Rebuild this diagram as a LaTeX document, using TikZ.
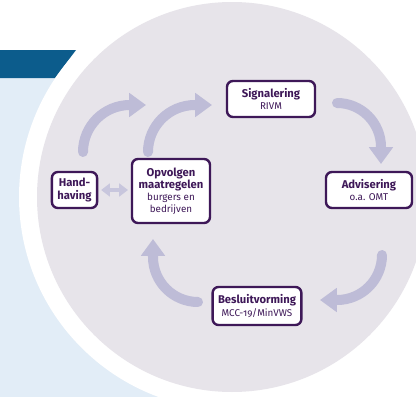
\documentclass[tikz,border=0pt]{standalone}
\usepackage{fontspec}
\setmainfont{Fira Sans}[Numbers=OldStyle]
\definecolor{main}{RGB}{62,24,88}
\definecolor{band}{RGB}{12,92,140}
\definecolor{sky}{RGB}{226,237,247}
\definecolor{disc}{RGB}{231,228,234}
\definecolor{flow}{RGB}{190,188,215}
\usetikzlibrary{
	arrows.meta,
	positioning
}
\tikzset{
  % node
	cycbox/.style     ={fill=white,draw=main,text=main,rounded corners=0.15cm,line width=1.7pt,inner sep=0pt,align=center,font=\fontsize{7}{8.6}\selectfont},
  % arrow
	cycarrow/.style   ={-{Triangle[width=0.58cm,length=0.42cm]},line width=0.25cm,flow,line cap=round},
	cycdarrow/.style  ={{Triangle[width=0.32cm,length=0.22cm]}-{Triangle[width=0.32cm,length=0.22cm]},line width=0.12cm,flow!85}
}
\newcommand{\boxhead}[1]{{\fontsize{8}{9.4}\selectfont\bfseries #1}}

\begin{document}
\begin{tikzpicture}[x=0.025cm,y=0.025cm]
	\clip (0,0) rectangle (416,397);
	% achtergrond
	\fill[sky] (0,0) rectangle (200,319);
	\fill[band] (0,319) -- (0,347) -- (76,347) -- (55,319) -- cycle;
	\fill[white] (232,200) circle (213);
	\fill[disc] (232,200) circle (195);
	% stappen
	\node[cycbox,minimum width=2.2cm,minimum height=0.9cm] (sig) at (271,298) {\boxhead{Signalering}\\RIVM};
	\node[cycbox,minimum width=2.15cm,minimum height=0.9cm] (adv) at (369,207) {\boxhead{Advisering}\\o.a. OMT};
	\node[cycbox,minimum width=2.22cm,minimum height=0.95cm] (bes) at (257,91) {\boxhead{Besluitvorming}\\MCC-19/MinVWS};
	\node[cycbox,minimum width=1.95cm,minimum height=1.6cm] (opv) at (171,206) {\boxhead{Opvolgen}\\\boxhead{maatregelen}\\burgers en\\bedrijven};
	\node[cycbox,minimum width=1.13cm,minimum height=0.9cm] (hand) at (74.5,207) {\boxhead{Hand-}\\\boxhead{having}};
	% pijlen
	\coordinate (h0) at (83,245);
	\coordinate (o0) at (148,245);
	\coordinate (s0) at (337,294);
	\coordinate (a0) at (382,142);
	\coordinate (b0) at (198,95);
	\draw[cycarrow] (h0) arc[start angle=180,end angle=90,radius=47] -- ++(16,0);
	\draw[cycarrow] (o0) arc[start angle=180,end angle=90,radius=47] -- ++(17,0);
	\draw[cycarrow] (s0) arc[start angle=90,end angle=0,radius=44] -- ++(0,-17);
	\draw[cycarrow] (a0) arc[start angle=0,end angle=-90,radius=45] -- ++(-17,0);
	\draw[cycarrow] (b0) arc[start angle=270,end angle=180,radius=45] -- ++(0,18);
	\draw[cycdarrow,shorten <=2pt,shorten >=2pt] (hand.east) -- (hand.east -| opv.west);
\end{tikzpicture}
\end{document}
